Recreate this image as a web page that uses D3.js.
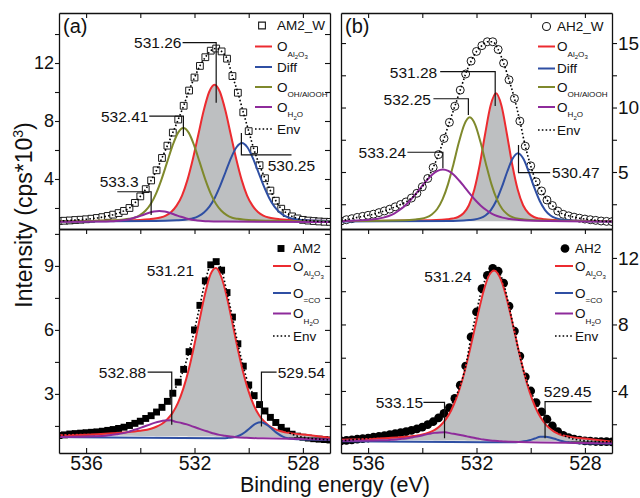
<!DOCTYPE html>
<html>
<head>
<meta charset="utf-8">
<script src="https://cdn.jsdelivr.net/npm/d3@7"></script>
<style>
  body { margin: 0; background: #fff; }
  svg { display: block; font-family: "Liberation Sans", Arial, sans-serif; }
</style>
</head>
<body>
<svg id="chart" width="640" height="498"></svg>
<script>
// O 1s XPS spectra, four samples, binding energy axis runs high -> low

// measured points, one value per energy below (cps*10^3)
const energy = [537.0, 536.8, 536.6, 536.4, 536.2, 536.0, 535.8, 535.6, 535.4, 535.2,
                535.0, 534.8, 534.6, 534.4, 534.2, 534.0, 533.8, 533.6, 533.4, 533.2,
                533.0, 532.8, 532.6, 532.4, 532.2, 532.0, 531.8, 531.6, 531.4, 531.2,
                531.0, 530.8, 530.6, 530.4, 530.2, 530.0, 529.8, 529.6, 529.4, 529.2,
                529.0, 528.8, 528.6, 528.4, 528.2, 528.0, 527.8, 527.6, 527.4, 527.2, 527.0];

const intensityAM2W = [1.10, 1.12, 1.14, 1.17, 1.19, 1.22, 1.26, 1.31, 1.37, 1.45,
                       1.54, 1.65, 1.80, 2.00, 2.35, 2.80, 3.30, 3.90, 4.60, 5.45,
                       6.30, 7.20, 8.10, 9.05, 10.10, 11.00, 11.80, 12.40, 12.85, 13.00,
                       12.80, 12.30, 11.10, 9.95, 8.60, 7.30, 6.00, 4.95, 4.05, 3.20,
                       2.50, 1.95, 1.65, 1.42, 1.28, 1.18, 1.13, 1.10, 1.07, 1.05, 1.04];

const intensityAH2W = [1.20, 1.30, 1.38, 1.48, 1.56, 1.64, 1.73, 1.85, 1.98, 2.12,
                       2.30, 2.48, 2.68, 2.98, 3.35, 3.85, 4.50, 5.35, 6.35, 7.60,
                       8.85, 10.10, 11.35, 12.60, 13.60, 14.35, 14.80, 15.10, 15.10, 14.50,
                       13.45, 12.15, 10.70, 8.95, 7.00, 5.48, 4.24, 3.53, 2.83, 2.40,
                       1.97, 1.72, 1.60, 1.50, 1.42, 1.35, 1.30, 1.25, 1.20, 1.17, 1.15];

const intensityAM2 = [1.05, 1.08, 1.12, 1.14, 1.16, 1.18, 1.20, 1.22, 1.25, 1.29,
                      1.33, 1.38, 1.44, 1.52, 1.62, 1.72, 1.85, 1.98, 2.15, 2.37,
                      2.65, 3.03, 3.55, 4.15, 4.98, 6.00, 7.15, 8.30, 9.05, 9.20,
                      8.80, 7.75, 6.60, 5.35, 4.30, 3.42, 2.92, 2.50, 2.20, 1.90,
                      1.66, 1.43, 1.26, 1.11, 1.02, 0.97, 0.93, 0.90, 0.88, 0.86, 0.84];

const intensityAH2 = [1.00, 1.03, 1.06, 1.10, 1.13, 1.17, 1.22, 1.27, 1.32, 1.38,
                      1.44, 1.50, 1.55, 1.63, 1.72, 1.83, 1.98, 2.15, 2.38, 2.65,
                      3.00, 3.55, 4.35, 5.50, 7.25, 8.75, 10.15, 10.95, 11.38, 11.20,
                      10.48, 9.10, 7.60, 6.10, 4.85, 4.00, 3.30, 2.75, 2.30, 1.90,
                      1.55, 1.33, 1.20, 1.10, 1.05, 1.00, 0.98, 0.96, 0.95, 0.95, 0.94];

// fitted components, [binding energy, intensity]
const aAl2O3 = [[537, 1.08], [534.46, 1.15], [533.66, 1.23], [533.46, 1.27], [533.26, 1.34], [533.06, 1.47],
  [532.86, 1.72], [532.66, 2.16], [532.46, 2.86], [532.26, 3.94], [532.06, 5.38], [531.86, 7.05],
  [531.66, 8.72], [531.46, 10.00], [531.26, 10.50], [531.06, 10.00], [530.86, 8.72], [530.66, 7.05],
  [530.46, 5.38], [530.26, 3.94], [530.06, 2.86], [529.86, 2.16], [529.66, 1.72], [529.46, 1.47],
  [529.26, 1.34], [529.06, 1.27], [528.86, 1.23], [528.06, 1.15], [527, 1.10]];
const aDiff = [[537, 1.06], [533.45, 1.10], [532.65, 1.15], [532.45, 1.17], [532.25, 1.22], [532.05, 1.29],
  [531.85, 1.44], [531.65, 1.69], [531.45, 2.09], [531.25, 2.71], [531.05, 3.54], [530.85, 4.50],
  [530.65, 5.46], [530.45, 6.19], [530.25, 6.48], [530.05, 6.19], [529.85, 5.46], [529.65, 4.50],
  [529.45, 3.54], [529.25, 2.71], [529.05, 2.09], [528.85, 1.69], [528.65, 1.44], [528.45, 1.29],
  [528.25, 1.22], [528.05, 1.17], [527.85, 1.15], [527, 1.11]];
const aOH = [[537, 1.08], [535.61, 1.12], [534.81, 1.17], [534.61, 1.20], [534.41, 1.25], [534.21, 1.33],
  [534.01, 1.51], [533.81, 1.81], [533.61, 2.29], [533.41, 3.03], [533.21, 4.01], [533.01, 5.16],
  [532.81, 6.30], [532.61, 7.18], [532.41, 7.52], [532.21, 7.18], [532.01, 6.30], [531.81, 5.16],
  [531.61, 4.01], [531.41, 3.03], [531.21, 2.29], [531.01, 1.81], [530.81, 1.51], [530.61, 1.33],
  [530.41, 1.25], [530.21, 1.20], [530.01, 1.17], [529.21, 1.12], [527, 1.07]];
const aH2O = [[537, 1.05], [535.7, 1.06], [535.3, 1.07], [535.1, 1.08], [534.9, 1.10], [534.7, 1.14],
  [534.5, 1.19], [534.3, 1.28], [534.1, 1.39], [533.9, 1.52], [533.7, 1.65], [533.5, 1.75],
  [533.3, 1.79], [533.1, 1.75], [532.9, 1.65], [532.7, 1.52], [532.5, 1.39], [532.3, 1.28],
  [532.1, 1.19], [531.9, 1.14], [531.7, 1.10], [531.5, 1.08], [531.1, 1.07], [530.9, 1.06], [527, 1.04]];

const bAl2O3 = [[537, 1.20], [533.68, 1.25], [533.28, 1.29], [533.08, 1.33], [532.88, 1.39], [532.68, 1.51],
  [532.48, 1.80], [532.28, 2.42], [532.08, 3.64], [531.88, 5.56], [531.68, 7.97], [531.48, 10.15],
  [531.28, 11.10], [531.08, 10.15], [530.88, 7.97], [530.68, 5.56], [530.48, 3.64], [530.28, 2.42],
  [530.08, 1.80], [529.88, 1.51], [529.68, 1.39], [529.48, 1.33], [529.28, 1.29], [528.88, 1.25], [527, 1.18]];
const bDiff = [[537, 1.17], [532.87, 1.21], [532.47, 1.24], [532.27, 1.27], [532.07, 1.31], [531.87, 1.42],
  [531.67, 1.63], [531.47, 2.05], [531.27, 2.77], [531.07, 3.80], [530.87, 5.00], [530.67, 6.02],
  [530.47, 6.45], [530.27, 6.02], [530.07, 5.00], [529.87, 3.80], [529.67, 2.77], [529.47, 2.05],
  [529.27, 1.63], [529.07, 1.42], [528.87, 1.31], [528.67, 1.27], [528.47, 1.24], [528.07, 1.21], [527, 1.17]];
const bOH = [[537, 1.20], [534.65, 1.26], [534.25, 1.32], [534.05, 1.37], [533.85, 1.48], [533.65, 1.71],
  [533.45, 2.13], [533.25, 2.89], [533.05, 4.06], [532.85, 5.61], [532.65, 7.30], [532.45, 8.68],
  [532.25, 9.24], [532.05, 8.68], [531.85, 7.30], [531.65, 5.61], [531.45, 4.06], [531.25, 2.89],
  [531.05, 2.13], [530.85, 1.71], [530.65, 1.48], [530.45, 1.37], [530.25, 1.32], [529.85, 1.26], [527, 1.18]];
const bH2O = [[537, 1.18], [536.64, 1.22], [536.04, 1.28], [535.64, 1.37], [535.44, 1.46], [535.24, 1.59],
  [535.04, 1.78], [534.84, 2.05], [534.64, 2.39], [534.44, 2.81], [534.24, 3.30], [534.04, 3.83],
  [533.84, 4.34], [533.64, 4.79], [533.44, 5.09], [533.24, 5.20], [533.04, 5.09], [532.84, 4.79],
  [532.64, 4.34], [532.44, 3.83], [532.24, 3.30], [532.04, 2.81], [531.84, 2.39], [531.64, 2.05],
  [531.44, 1.78], [531.24, 1.59], [531.04, 1.46], [530.84, 1.37], [530.44, 1.28], [529.84, 1.22], [527, 1.16]];

const cAl2O3 = [[537, 1.06], [535.61, 1.11], [534.61, 1.19], [534.01, 1.27], [533.61, 1.37], [533.41, 1.46],
  [533.21, 1.59], [533.01, 1.80], [532.81, 2.11], [532.61, 2.58], [532.41, 3.26], [532.21, 4.16],
  [532.01, 5.27], [531.81, 6.50], [531.61, 7.69], [531.41, 8.60], [531.21, 8.90], [531.01, 8.48],
  [530.81, 7.57], [530.61, 6.38], [530.41, 5.15], [530.21, 4.04], [530.01, 3.14], [529.81, 2.46],
  [529.61, 1.99], [529.41, 1.68], [529.21, 1.47], [529.01, 1.34], [528.81, 1.25], [528.41, 1.15],
  [527.81, 1.07], [527, 0.95]];
const cCO = [[537, 0.98], [531.14, 0.92], [530.94, 0.92], [530.74, 0.94], [530.54, 0.97], [530.34, 1.05],
  [530.14, 1.20], [529.94, 1.41], [529.74, 1.61], [529.54, 1.67], [529.34, 1.56], [529.14, 1.36],
  [528.94, 1.15], [528.74, 1.00], [528.54, 0.92], [528.34, 0.89], [528.14, 0.87], [527, 0.84]];
const cH2O = [[537, 0.98], [536.28, 0.99], [535.68, 1.01], [535.28, 1.04], [535.08, 1.07], [534.88, 1.11],
  [534.68, 1.15], [534.48, 1.21], [534.28, 1.29], [534.08, 1.37], [533.88, 1.46], [533.68, 1.55],
  [533.48, 1.64], [533.28, 1.71], [533.08, 1.75], [532.88, 1.76], [532.68, 1.69], [532.48, 1.64],
  [532.28, 1.57], [532.08, 1.48], [531.88, 1.39], [531.68, 1.30], [531.48, 1.22], [531.28, 1.14],
  [531.08, 1.08], [530.88, 1.04], [530.68, 1.00], [530.48, 0.97], [530.08, 0.94], [529.48, 0.92], [527, 0.86]];

const dAl2O3 = [[537, 1.07], [535.74, 1.13], [534.74, 1.23], [534.14, 1.34], [533.74, 1.50], [533.54, 1.66],
  [533.34, 1.91], [533.14, 2.28], [532.94, 2.81], [532.74, 3.58], [532.54, 4.57], [532.34, 5.81],
  [532.14, 7.22], [531.94, 8.67], [531.74, 10.00], [531.54, 10.95], [531.34, 11.25], [531.14, 10.85],
  [530.94, 9.90], [530.74, 8.57], [530.54, 7.12], [530.34, 5.71], [530.14, 4.47], [529.94, 3.48],
  [529.74, 2.71], [529.54, 2.18], [529.34, 1.81], [529.14, 1.56], [528.94, 1.40], [528.54, 1.24],
  [527.94, 1.13], [527, 0.95]];
const dCO = [[537, 0.97], [530.65, 0.92], [530.45, 0.93], [530.25, 0.97], [530.05, 1.04], [529.85, 1.14],
  [529.65, 1.24], [529.45, 1.25], [529.25, 1.19], [529.05, 1.09], [528.85, 0.99], [528.65, 0.92],
  [528.45, 0.88], [528.25, 0.86], [527, 0.84]];
const dH2O = [[537, 1.00], [535.55, 1.03], [535.35, 1.04], [535.15, 1.06], [534.95, 1.08], [534.75, 1.12],
  [534.55, 1.16], [534.35, 1.22], [534.15, 1.28], [533.95, 1.35], [533.75, 1.42], [533.55, 1.48],
  [533.35, 1.51], [533.15, 1.52], [532.95, 1.45], [532.75, 1.40], [532.55, 1.34], [532.35, 1.27],
  [532.15, 1.20], [531.95, 1.14], [531.75, 1.08], [531.55, 1.04], [531.35, 1.00], [531.15, 0.98],
  [530.95, 0.96], [530.75, 0.95], [527, 0.86]];

// ticks
const energyDomain = [537, 527];
const xTickMajor = [536, 532, 528];
const xTickMinor = [534, 530];
const yTicksA = [4, 8, 12],  yMinorA = [2, 6, 10, 14];
const yTicksB = [5, 10, 15], yMinorB = [2.5, 7.5, 12.5];
const yTicksC = [3, 6, 9],   yMinorC = [1.5, 4.5, 7.5, 10.5];
const yTicksD = [4, 8, 12],  yMinorD = [2, 6, 10];

// legend labels: [text, level] with level 0 normal, 1 subscript, 2 sub-subscript
const lblAl2O3 = [['O', 0], ['Al', 1], ['2', 2], ['O', 1], ['3', 2]];
const lblOH    = [['O', 0], ['OH/AlOOH', 1]];
const lblH2O   = [['O', 0], ['H', 1], ['2', 2], ['O', 1]];
const lblCO    = [['O', 0], ['=CO', 1]];

const RED = '#ec2b30', BLUE = '#2f4fa3', OLIVE = '#7f892c', PURPLE = '#8e2b9b', GRAY = '#bdbfc1';

// peak labels with leader lines, positions in data units
const notesA = [
  { text: '531.26', tx: 532.48, ty: 13.4, anchor: 'end', path: [[532.44, 13.4], [531.2, 13.4], [531.2, 9.26]] },
  { text: '532.41', tx: 533.7, ty: 8.3, anchor: 'end', path: [[533.67, 8.34], [532.41, 8.34], [532.41, 6.97]] },
  { text: '530.25', tx: 529.3, ty: 4.95, anchor: 'start', path: [[530.27, 7.17], [530.27, 5.66], [528.42, 5.66]] },
  { text: '533.3', tx: 534.78, ty: 3.8, anchor: 'middle', path: [[534.85, 3.12], [533.6, 3.12], [533.6, 1.52]] }
];
const notesB = [
  { text: '531.28', tx: 533.45, ty: 12.7, anchor: 'end', path: [[533.34, 12.78], [531.31, 12.78], [531.31, 10.12]] },
  { text: '532.25', tx: 533.68, ty: 10.64, anchor: 'end', path: [[533.59, 10.68], [532.3, 10.68], [532.3, 9.42]] },
  { text: '533.24', tx: 534.6, ty: 6.5, anchor: 'end', path: [[534.55, 6.53], [533.24, 6.53], [533.24, 5.29]] },
  { text: '530.47', tx: 529.21, ty: 4.95, anchor: 'start', path: [[530.45, 7.09], [530.45, 4.95], [529.28, 4.95]] }
];
const notesC = [
  { text: '531.21', tx: 532.89, ty: 8.77, anchor: 'middle', path: null },
  { text: '532.88', tx: 533.78, ty: 4.02, anchor: 'end', path: [[533.73, 4.02], [532.84, 4.02], [532.84, 1.55]] },
  { text: '529.54', tx: 528.93, ty: 4.02, anchor: 'start', path: [[529.53, 1.47], [529.53, 4.02], [528.97, 4.02]] }
];
const notesD = [
  { text: '531.24', tx: 533.05, ty: 10.87, anchor: 'middle', path: null },
  { text: '533.15', tx: 533.97, ty: 3.3, anchor: 'end', path: [[533.96, 3.32], [533.18, 3.32], [533.18, 1.15]] },
  { text: '529.45', tx: 528.64, ty: 3.95, anchor: 'middle', path: [[527.75, 3.36], [529.47, 3.36], [529.47, 1.15]] }
];

const panels = [
  { key: 'a', tag: '(a)', px: [59, 330], py: [13, 229], yDomain: [0.55, 15.45], labelSide: 'left', bottom: false,
    major: yTicksA, minor: yMinorA, data: intensityAM2W, marker: 'openSquare', name: 'AM2_W',
    comps: [{ pts: aAl2O3, color: RED, label: lblAl2O3 }, { pts: aDiff, color: BLUE, label: [['Diff', 0]] },
            { pts: aOH, color: OLIVE, label: lblOH }, { pts: aH2O, color: PURPLE, label: lblH2O }],
    legend: { mx: 262, lx: [255, 272], tx: 277, rows: [25.5, 46.5, 67, 87, 107, 129] }, notes: notesA },
  { key: 'b', tag: '(b)', px: [341, 612], py: [13, 229], yDomain: [0.58, 17.33], labelSide: 'right', bottom: false,
    major: yTicksB, minor: yMinorB, data: intensityAH2W, marker: 'openCircle', name: 'AH2_W',
    comps: [{ pts: bAl2O3, color: RED, label: lblAl2O3 }, { pts: bDiff, color: BLUE, label: [['Diff', 0]] },
            { pts: bOH, color: OLIVE, label: lblOH }, { pts: bH2O, color: PURPLE, label: lblH2O }],
    legend: { mx: 546.5, lx: [538, 555], tx: 557, rows: [26.5, 46.5, 68.5, 87, 107, 130] }, notes: notesB },
  { key: 'c', tag: null, px: [59, 330], py: [229, 453], yDomain: [0.23, 10.73], labelSide: 'left', bottom: true,
    major: yTicksC, minor: yMinorC, data: intensityAM2, marker: 'square', name: 'AM2',
    comps: [{ pts: cAl2O3, color: RED, label: lblAl2O3 }, { pts: cCO, color: BLUE, label: lblCO },
            { pts: cH2O, color: PURPLE, label: lblH2O }],
    legend: { mx: 281, lx: [273, 291], tx: 293, rows: [248.5, 266, 293, 313.5, 336] }, notes: notesC },
  { key: 'd', tag: null, px: [341, 612], py: [229, 453], yDomain: [0.27, 13.74], labelSide: 'right', bottom: true,
    major: yTicksD, minor: yMinorD, data: intensityAH2, marker: 'circle', name: 'AH2',
    comps: [{ pts: dAl2O3, color: RED, label: lblAl2O3 }, { pts: dCO, color: BLUE, label: lblCO },
            { pts: dH2O, color: PURPLE, label: lblH2O }],
    legend: { mx: 565, lx: [555, 573], tx: 575, rows: [248.5, 266, 293, 313.5, 336] }, notes: notesD }
];

const svg = d3.select('#chart');
const defs = svg.append('defs');

const markerStyle = {
  openSquare: { sym: d3.symbol(d3.symbolSquare, 46), fill: '#fff', stroke: '#1a1a1a' },
  openCircle: { sym: d3.symbol(d3.symbolCircle, 50), fill: '#fff', stroke: '#1a1a1a' },
  square:     { sym: d3.symbol(d3.symbolSquare, 48), fill: '#000', stroke: 'none' },
  circle:     { sym: d3.symbol(d3.symbolCircle, 60), fill: '#000', stroke: 'none' }
};

function richText(sel, parts, size) {
  const sizes = [size, size * 0.6, size * 0.45];
  const shift = [0, size * 0.38, size * 0.58];
  let cur = 0;
  parts.forEach(([t, lv]) => {
    sel.append('tspan').attr('font-size', sizes[lv]).attr('dy', shift[lv] - cur).text(t);
    cur = shift[lv];
  });
}

function styleAxis(g, size) {
  g.attr('font-size', size).attr('font-family', '"Liberation Sans", Arial, sans-serif');
  g.select('.domain').attr('stroke', '#111').attr('stroke-width', 1.3);
  g.selectAll('.tick line').attr('stroke', '#111').attr('stroke-width', 1.1);
  g.selectAll('.tick text').attr('fill', '#111');
}

panels.forEach(p => {
  const x = d3.scaleLinear().domain(energyDomain).range(p.px);
  const y = d3.scaleLinear().domain(p.yDomain).range([p.py[1], p.py[0]]);
  const g = svg.append('g');

  const clipId = 'clip-' + p.key;
  defs.append('clipPath').attr('id', clipId).append('rect')
    .attr('x', p.px[0]).attr('y', p.py[0])
    .attr('width', p.px[1] - p.px[0]).attr('height', p.py[1] - p.py[0]);
  const plot = g.append('g').attr('clip-path', 'url(#' + clipId + ')');

  const pts = energy.map((e, i) => [e, p.data[i]]);
  const ms = markerStyle[p.marker];

  // measured points
  plot.selectAll('path.pt').data(pts).join('path').attr('class', 'pt')
    .attr('transform', d => 'translate(' + x(d[0]) + ',' + y(d[1]) + ')')
    .attr('d', ms.sym).attr('fill', ms.fill).attr('stroke', ms.stroke).attr('stroke-width', 1);

  // shaded main component
  const main = p.comps[0].pts.slice().sort((a, b) => b[0] - a[0]);
  const first = main[0], last = main[main.length - 1];
  const base = e => first[1] + (last[1] - first[1]) * (e - first[0]) / (last[0] - first[0]);
  plot.append('path').datum(main)
    .attr('d', d3.area().curve(d3.curveMonotoneX)
      .x(d => x(d[0])).y0(d => y(base(d[0]))).y1(d => y(d[1])))
    .attr('fill', GRAY);

  const line = d3.line().curve(d3.curveMonotoneX).x(d => x(d[0])).y(d => y(d[1]));
  p.comps.forEach(c => {
    plot.append('path').datum(c.pts.slice().sort((a, b) => b[0] - a[0]))
      .attr('d', line).attr('fill', 'none').attr('stroke', c.color).attr('stroke-width', 2);
  });

  // envelope drawn along the measured points
  plot.append('path').datum(pts).attr('d', line)
    .attr('fill', 'none').attr('stroke', '#000').attr('stroke-width', 1.6)
    .attr('stroke-dasharray', '1.6,2.2');

  // axes / frame
  const xt = xTickMajor.concat(xTickMinor);
  const yt = p.major.concat(p.minor);
  const yfmt = d => p.major.includes(d) ? d : '';

  styleAxis(g.append('g').attr('transform', 'translate(0,' + p.py[0] + ')')
    .call(d3.axisBottom(x).tickValues(xt).tickSizeInner(5).tickSizeOuter(0).tickFormat('')), 18);
  if (p.bottom) {
    styleAxis(g.append('g').attr('transform', 'translate(0,' + p.py[1] + ')')
      .call(d3.axisBottom(x).tickValues(xt).tickSizeInner(-5).tickSizeOuter(0).tickPadding(3)
        .tickFormat(d => xTickMajor.includes(d) ? d : '')), 19.5);
  } else {
    styleAxis(g.append('g').attr('transform', 'translate(0,' + p.py[1] + ')')
      .call(d3.axisTop(x).tickValues([]).tickSizeOuter(0)), 18);
  }
  if (p.labelSide === 'left') {
    styleAxis(g.append('g').attr('transform', 'translate(' + p.px[0] + ',0)')
      .call(d3.axisLeft(y).tickValues(yt).tickSizeInner(4).tickSizeOuter(0).tickPadding(1).tickFormat(yfmt)), 18);
    styleAxis(g.append('g').attr('transform', 'translate(' + p.px[1] + ',0)')
      .call(d3.axisRight(y).tickValues(yt).tickSizeInner(-5).tickSizeOuter(0).tickFormat('')), 18);
  } else {
    styleAxis(g.append('g').attr('transform', 'translate(' + p.px[0] + ',0)')
      .call(d3.axisLeft(y).tickValues(yt).tickSizeInner(-5).tickSizeOuter(0).tickFormat('')), 18);
    styleAxis(g.append('g').attr('transform', 'translate(' + p.px[1] + ',0)')
      .call(d3.axisRight(y).tickValues(yt).tickSizeInner(5).tickSizeOuter(0).tickPadding(1).tickFormat(yfmt)), 19);
  }

  // peak labels
  p.notes.forEach(n => {
    if (n.path) {
      g.append('path').datum(n.path)
        .attr('d', d3.line().x(d => x(d[0])).y(d => y(d[1])))
        .attr('fill', 'none').attr('stroke', '#111').attr('stroke-width', 1.2);
    }
    g.append('text').attr('x', x(n.tx)).attr('y', y(n.ty)).attr('dy', '0.36em')
      .attr('text-anchor', n.anchor).attr('font-size', 15.5).attr('fill', '#111').text(n.text);
  });

  // legend
  const L = p.legend;
  g.append('path').attr('transform', 'translate(' + L.mx + ',' + L.rows[0] + ')')
    .attr('d', ms.sym).attr('fill', ms.fill).attr('stroke', ms.stroke).attr('stroke-width', 1.1);
  g.append('text').attr('x', L.tx).attr('y', L.rows[0]).attr('dy', '0.36em')
    .attr('font-size', 13.5).attr('fill', '#111').text(p.name);
  p.comps.forEach((c, i) => {
    const ry = L.rows[i + 1];
    g.append('line').attr('x1', L.lx[0]).attr('x2', L.lx[1]).attr('y1', ry).attr('y2', ry)
      .attr('stroke', c.color).attr('stroke-width', 2);
    const t = g.append('text').attr('x', L.tx).attr('y', ry + 4.9).attr('fill', '#111');
    richText(t, c.label, 13.5);
  });
  const ey = L.rows[p.comps.length + 1];
  g.append('line').attr('x1', L.lx[0]).attr('x2', L.lx[1]).attr('y1', ey).attr('y2', ey)
    .attr('stroke', '#000').attr('stroke-width', 1.6).attr('stroke-dasharray', '1.6,2.2');
  g.append('text').attr('x', L.tx).attr('y', ey).attr('dy', '0.36em')
    .attr('font-size', 13.5).attr('fill', '#111').text('Env');

  if (p.tag) {
    g.append('text').attr('x', p.px[0] + 4).attr('y', p.py[0] + 20)
      .attr('font-size', 20).attr('fill', '#111').text(p.tag);
  }
});

// axis titles
svg.append('text').attr('x', 335).attr('y', 492).attr('text-anchor', 'middle')
  .attr('font-size', 21.5).attr('fill', '#111').text('Binding energy (eV)');

const yt = svg.append('text').attr('transform', 'translate(32,215) rotate(-90)')
  .attr('text-anchor', 'middle').attr('font-size', 23).attr('fill', '#111');
yt.append('tspan').text('Intensity (cps*10');
yt.append('tspan').attr('font-size', 14).attr('dy', -9).text('3');
yt.append('tspan').attr('dy', 9).text(')');
</script>
</body>
</html>
